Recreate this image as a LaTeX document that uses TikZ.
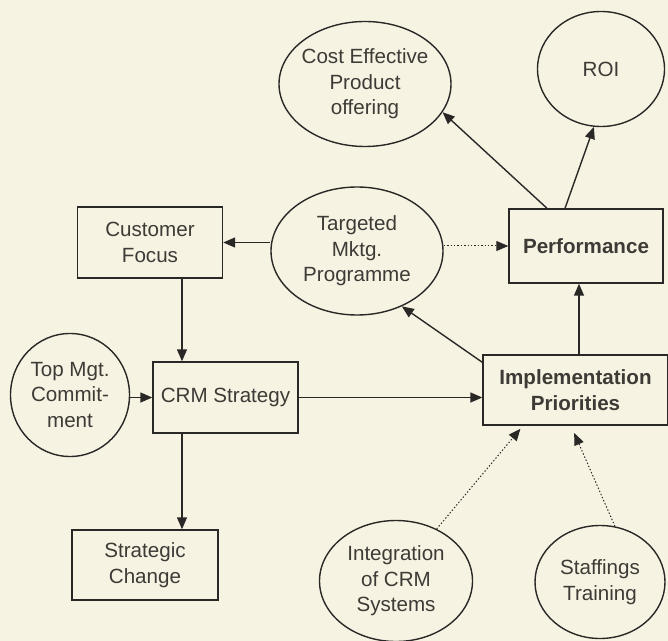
\documentclass[tikz,border=0pt]{standalone}
\usepackage{fontspec}
\setmainfont{Liberation Sans}
\usetikzlibrary{arrows.meta,shapes.geometric}
\definecolor{paper}{RGB}{247,243,227}
\definecolor{ink}{RGB}{42,40,38}
\definecolor{inktext}{RGB}{62,58,54}

\begin{document}
\begin{tikzpicture}[x=0.5pt,y=-0.5pt]
\tikzset{box/.style = {shape=rectangle,draw=ink,line width=0.7pt,align=center,inner sep=0pt,text=inktext,font=\fontsize{10.3}{12.8}\selectfont}}
\tikzset{bubble/.style = {shape=ellipse,draw=ink,line width=0.7pt,align=center,inner sep=-1.5pt,text=inktext,font=\fontsize{10.3}{12.8}\selectfont}}
\tikzset{edge/.style = {-{Triangle[length=6pt,width=5pt]},draw=ink,line width=0.7pt}}
\tikzset{hint/.style = {edge,densely dotted,line width=0.5pt}}
\fill[paper] (0,0) rectangle (668,641);
\useasboundingbox (0,0) rectangle (668,641);

\node[bubble,minimum width=86pt,minimum height=62.5pt] (cost) at (365,84) {Cost Effective\\Product\\offering};
\node[bubble,minimum width=63.5pt,minimum height=57.5pt] (roi) at (601,69) {ROI};
\node[box,minimum width=72.5pt,minimum height=35.5pt] (focus) at (150,242.5) {Customer\\Focus};
\node[bubble,minimum width=86pt,minimum height=64pt] (tmp) at (357,251) {Targeted\\Mktg.\\Programme};
\node[box,minimum width=77pt,minimum height=37pt,font=\fontsize{10.3}{12.8}\selectfont\bfseries] (perf) at (586,246) {Performance};
\node[bubble,minimum width=59.5pt,minimum height=61.5pt] (topmgt) at (70,395) {Top Mgt.\\Commit-\\ment};
\node[box,minimum width=72.5pt,minimum height=35.5pt] (crm) at (225.5,397.5) {CRM Strategy};
\node[box,minimum width=73pt,minimum height=35pt] (change) at (145,565) {Strategic\\Change};
\node[box,minimum width=92.5pt,minimum height=35pt,font=\fontsize{10.3}{12.8}\selectfont\bfseries] (impl) at (575.5,390) {Implementation\\Priorities};
\node[bubble,minimum width=76.5pt,minimum height=60.5pt] (integ) at (396,581) {Integration\\of CRM\\Systems};
\node[bubble,minimum width=65pt,minimum height=56.5pt] (staff) at (600,582) {Staffings\\Training};

\coordinate (xa) at (182,0);
\coordinate (xb) at (547,0);
\coordinate (xc) at (565,0);
\coordinate (xd) at (579,0);
\coordinate (xe) at (523,0);
\coordinate (xf) at (571,0);

\draw[edge] (tmp.west |- focus) -- (focus);
\draw[hint] (tmp.east |- perf) -- (perf);
\draw[edge] (perf.north -| xb) -- (cost.-20);
\draw[edge] (perf.north -| xc) -- (roi.-97);
\draw[edge] (focus.south -| xa) -- (crm.north -| xa);
\draw[edge] (crm.south -| xa) -- (change.north -| xa);
\draw[edge] (topmgt.east |- crm) -- (crm);
\draw[edge] (crm) -- (crm -| impl.west);
\draw[edge] ([yshift=-4pt]impl.north west) -- (tmp.-51);
\draw[edge] (impl.north -| xd) -- (perf.south -| xd);
\draw[hint,shorten >=2pt] (integ.52) -- (impl.south -| xe);
\draw[hint,shorten >=4pt] (staff.75) -- (impl.south -| xf);
\end{tikzpicture}
\end{document}
